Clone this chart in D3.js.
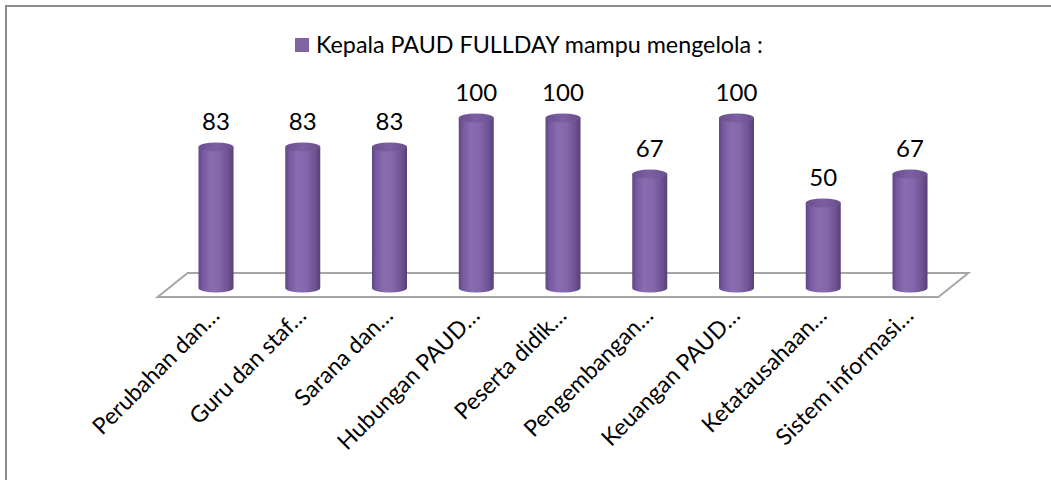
<!DOCTYPE html>
<html>
<head>
<meta charset="utf-8">
<script src="https://cdn.jsdelivr.net/npm/d3@7"></script>
<style>
  html, body { margin: 0; padding: 0; background: #fff; }
  svg { display: block; }
  text { font-family: Lato, "Open Sans", sans-serif; fill: #000; }
</style>
</head>
<body>
<svg id="chart" width="1051" height="480"></svg>
<script>
const categories = [
  "Perubahan dan…",
  "Guru dan staf…",
  "Sarana dan…",
  "Hubungan PAUD…",
  "Peserta didik…",
  "Pengembangan…",
  "Keuangan PAUD…",
  "Ketatausahaan…",
  "Sistem informasi…"
];
const values = [83, 83, 83, 100, 100, 67, 100, 50, 67];
const seriesName = "Kepala PAUD FULLDAY mampu mengelola :";

const W = 1051, H = 480;
const svg = d3.select("#chart");

// gradient that shades each cylinder
const defs = svg.append("defs");
const grad = defs.append("linearGradient").attr("id", "cyl").attr("x1", "0").attr("x2", "1").attr("y1", "0").attr("y2", "0");
[[0, "#5f4781"], [0.12, "#7659a0"], [0.35, "#8a6cb0"], [0.6, "#8466aa"], [0.85, "#6d5292"], [1, "#563f74"]]
  .forEach(([o, c]) => grad.append("stop").attr("offset", o).attr("stop-color", c));
const topGrad = defs.append("linearGradient").attr("id", "cylTop").attr("x1", "0").attr("x2", "1");
[[0, "#6a4f8e"], [0.5, "#7c5fa2"], [1, "#6a4f8e"]]
  .forEach(([o, c]) => topGrad.append("stop").attr("offset", o).attr("stop-color", c));

// chart frame
svg.append("path")
  .attr("d", `M6,${H + 5}V6H${W + 5}`)
  .attr("fill", "none").attr("stroke", "#8c8c8c").attr("stroke-width", 2);

const x = d3.scalePoint().domain(categories).range([216, 910]);
const y = d3.scaleLinear().domain([0, 100]).range([288, 118]);
const step = x.step();
const rx = 17.5, ry = 4.5;

// floor of the 3D plot
const y0 = y(0);
const xl = x(categories[0]) - step / 2, xr = x(categories[categories.length - 1]) + step / 2;
const skew = 15;
svg.append("path")
  .attr("d", `M${xl + skew},${y0 - 15}H${xr + skew}L${xr - skew},${y0 + 9}H${xl - skew}Z`)
  .attr("fill", "none").attr("stroke", "#a6a6a6").attr("stroke-width", 2);

// cylinders
const bars = svg.append("g").selectAll("g").data(categories).join("g");
bars.append("path")
  .attr("d", (d, i) => {
    const cx = x(d), yt = y(values[i]);
    return `M${cx - rx},${yt}V${y0}A${rx},${ry} 0 0 0 ${cx + rx},${y0}V${yt}Z`;
  })
  .attr("fill", "url(#cyl)");
bars.append("ellipse")
  .attr("cx", d => x(d))
  .attr("cy", (d, i) => y(values[i]))
  .attr("rx", rx).attr("ry", ry)
  .attr("fill", "url(#cylTop)");

// value labels
svg.append("g").selectAll("text").data(categories).join("text")
  .attr("x", d => x(d))
  .attr("y", (d, i) => y(values[i]) - 17)
  .attr("text-anchor", "middle")
  .attr("font-size", 24)
  .text((d, i) => values[i]);

// category labels
svg.append("g").selectAll("text").data(categories).join("text")
  .attr("transform", d => `translate(${x(d) + 5},${y0 + 29}) rotate(-45)`)
  .attr("text-anchor", "end")
  .attr("font-size", 23)
  .text(d => d);

// legend
const lg = svg.append("g").attr("transform", "translate(295,38)");
lg.append("rect").attr("width", 14).attr("height", 14).attr("fill", "#8064a2");
lg.append("text").attr("x", 21).attr("y", 15).attr("font-size", 23.3).text(seriesName);
</script>
</body>
</html>
